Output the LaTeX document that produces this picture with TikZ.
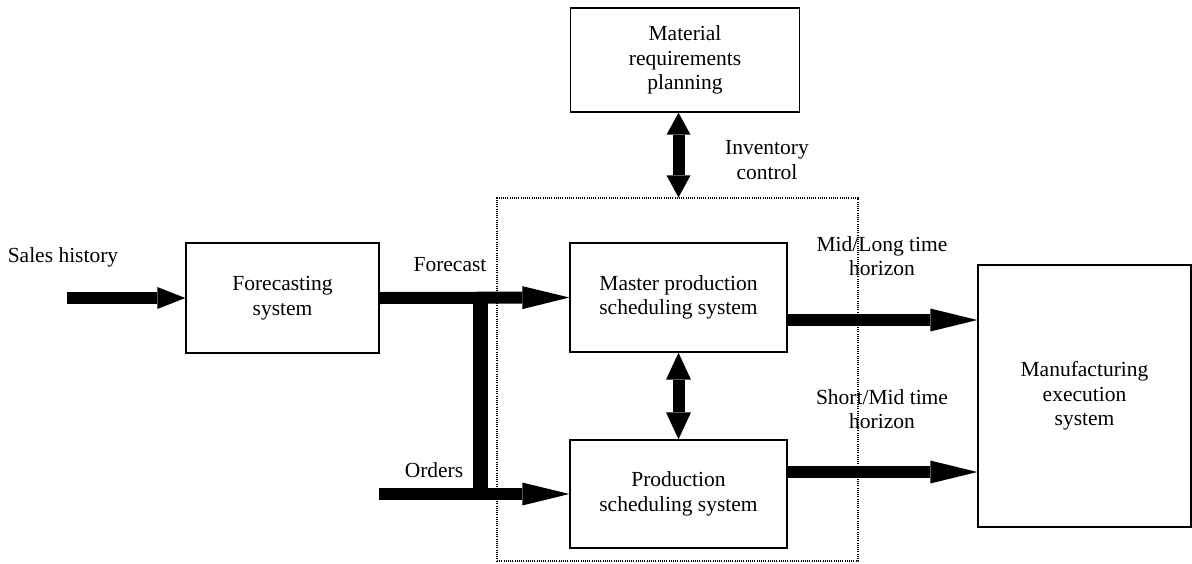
\documentclass[tikz,border=0pt]{standalone}
\usepackage{fontspec}
\setmainfont{Liberation Serif}
\usetikzlibrary{arrows.meta}
\begin{document}
\begin{tikzpicture}[x=1pt,y=-1pt,font=\fontsize{21.5}{24.5}\selectfont,
  box/.style={draw,line width=1.4pt,align=center,inner sep=0pt},
  lbl/.style={align=center,inner sep=0pt},
  fat/.style={line width=12pt,-{Triangle[length=47pt,width=23pt,line width=0pt]}},
  fatshort/.style={line width=12pt,-{Triangle[length=28pt,width=22pt,line width=0pt]}},
  dbl/.style={line width=12pt,{Triangle[length=22pt,width=24pt,line width=0pt]}-{Triangle[length=22pt,width=24pt,line width=0pt]}},
  dblb/.style={line width=12pt,{Triangle[length=27pt,width=25pt,line width=0pt]}-{Triangle[length=27pt,width=25pt,line width=0pt]}},
  bar/.style={line width=15pt}]
\useasboundingbox (0,0) rectangle (1192,563);
% boxes
\node[box,minimum width=193pt,minimum height=110pt] (fc) at (282.5,298) {Forecasting\\system};
\node[box,minimum width=217pt,minimum height=109pt] (mps) at (678.5,297.5) {Master production\\scheduling system};
\node[box,minimum width=217pt,minimum height=108pt] (ps) at (678.5,494) {Production\\scheduling system};
\node[box,minimum width=229pt,minimum height=104pt] (mrp) at (685,60) {Material\\requirements\\planning};
\node[box,minimum width=213pt,minimum height=262pt] (mes) at (1084.5,396) {Manufacturing\\execution\\system};
% dotted frame
\node[draw,line width=1.2pt,dash pattern=on 1pt off 1.2pt,inner sep=0pt,minimum width=361pt,minimum height=363pt] (frame) at (677.5,379.5) {};
% labels
\node[lbl] (lsales) at (63,257) {Sales history};
\node[lbl] (lfc) at (450,265) {Forecast};
\node[lbl] (lord) at (434,470) {Orders};
\node[lbl] (linv) at (767,160) {Inventory\\control};
\node[lbl] (lml) at (882,256) {Mid/Long time\\horizon};
\node[lbl] (lsm) at (882,409) {Short/Mid time\\horizon};
% coordinates
\coordinate (s0) at (67,298);
\coordinate (o0) at (379,494);
\coordinate (j1) at (480,297.5);
\coordinate (j2) at (480,494);
\coordinate (ml) at (787,320);
\coordinate (sm) at (787,472);
% connectors
\draw[fatshort] (s0) -- (fc.west);
\draw[bar,shorten <=-5pt,shorten >=-5pt] (j1) -- (j2);
\draw[fat] (fc.east) -- (mps.west);
\draw[fat] (o0) -- (ps.west);
\draw[fat] (ml) -- (ml -| mes.west);
\draw[fat] (sm) -- (sm -| mes.west);
\draw[dbl] (mps.north |- mrp.south) -- (mps.north |- frame.north);
\draw[dblb] (mps.south) -- (ps.north);
\end{tikzpicture}
\end{document}
